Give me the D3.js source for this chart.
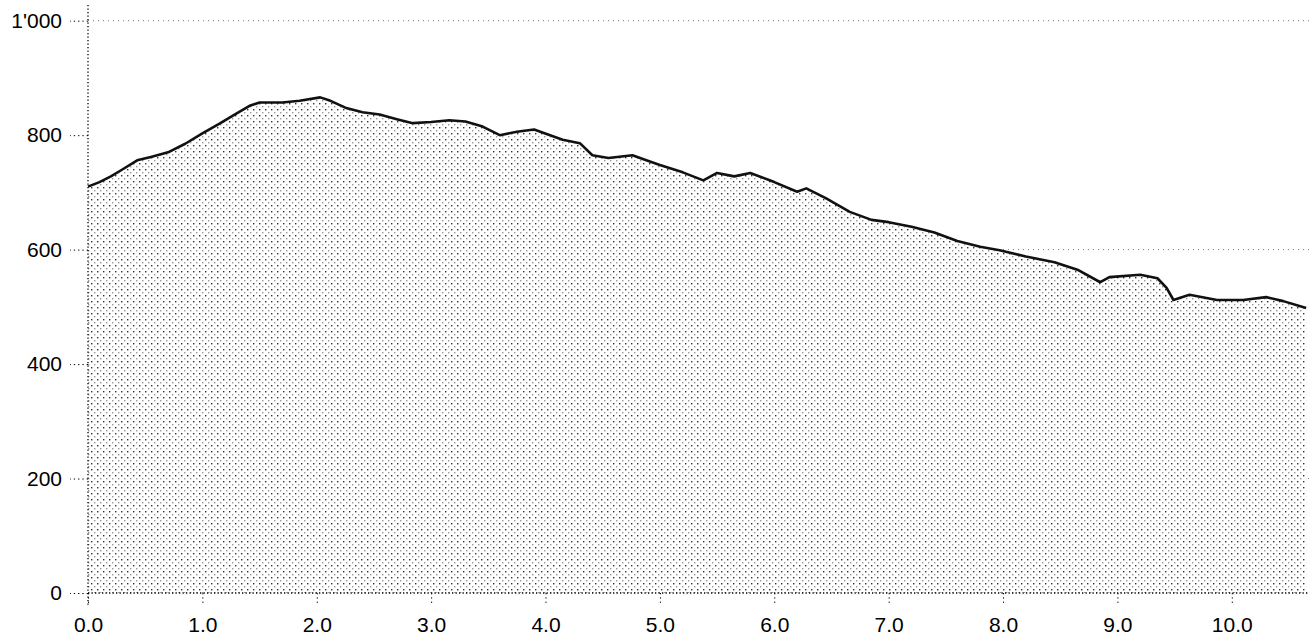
<!DOCTYPE html>
<html><head><meta charset="utf-8">
<script src="https://cdn.jsdelivr.net/npm/d3@7/dist/d3.min.js"></script>
<style>body{margin:0;background:#fff}svg{display:block}</style>
</head><body>
<svg id="c" width="1312" height="641"></svg>
<script>
const distKm = [0.0,0.1,0.2,0.3,0.43,0.55,0.7,0.85,1.0,1.15,1.3,1.42,1.5,1.7,1.85,2.03,2.12,2.25,2.4,2.55,2.7,2.84,3.0,3.16,3.3,3.45,3.6,3.75,3.9,4.04,4.15,4.3,4.41,4.55,4.76,4.9,5.0,5.2,5.38,5.5,5.65,5.79,6.0,6.2,6.28,6.45,6.66,6.85,7.0,7.2,7.4,7.6,7.8,7.97,8.2,8.45,8.65,8.85,8.93,9.2,9.35,9.43,9.49,9.63,9.87,10.1,10.3,10.45,10.65];
const elevation = [710,718,728,740,756,762,770,785,803,820,838,852,857,857,860,866,860,848,840,836,828,821,823,826,824,815,800,806,810,800,792,786,765,760,765,755,748,735,721,734,728,734,718,701,707,690,666,652,648,640,630,615,605,599,588,578,565,543,552,556,550,533,512,521,512,512,517,510,498];
const xTicks = [0,1,2,3,4,5,6,7,8,9,10];
const yTicks = [0,200,400,600,800,1000];
const yLabels = ["0","200","400","600","800","1'000"];
const gridValues = [200,600,1000];

const svg = d3.select("#c");
const x = d3.scaleLinear().domain([0,10.675]).range([88,1309]);
const y = d3.scaleLinear().domain([0,1000]).range([593,20.7]);

const defs = svg.append("defs");
const pat = defs.append("pattern").attr("id","dots").attr("patternUnits","userSpaceOnUse")
  .attr("width",6).attr("height",6);
pat.append("rect").attr("width",6).attr("height",6).attr("fill","#fff");
pat.append("rect").attr("x",1).attr("y",1).attr("width",1.4).attr("height",1.4).attr("fill","#333");
pat.append("rect").attr("x",4).attr("y",4).attr("width",1.4).attr("height",1.4).attr("fill","#999");

// gridlines
svg.append("g").selectAll("line").data(gridValues).join("line")
  .attr("x1",x(0)).attr("x2",1309).attr("y1",d=>y(d)).attr("y2",d=>y(d))
  .attr("stroke","#777").attr("stroke-width",1).attr("stroke-dasharray","1,4");

const data = distKm.map((d,i)=>[d,elevation[i]]);
svg.append("path").datum(data)
  .attr("d", d3.area().x(d=>x(d[0])).y0(y(0)).y1(d=>y(d[1])))
  .attr("fill","url(#dots)");
svg.append("path").datum(data)
  .attr("d", d3.line().x(d=>x(d[0])).y(d=>y(d[1])))
  .attr("fill","none").attr("stroke","#111").attr("stroke-width",2.6).attr("stroke-linejoin","round");

// axes
svg.append("line").attr("x1",x(0)).attr("x2",x(0)).attr("y1",5).attr("y2",605)
  .attr("stroke","#000").attr("stroke-width",1.3).attr("stroke-dasharray","1.3,2.2");
svg.append("line").attr("x1",x(0)).attr("x2",1309).attr("y1",y(0)).attr("y2",y(0))
  .attr("stroke","#000").attr("stroke-width",1.3).attr("stroke-dasharray","1.3,2.2");

const yAxis = d3.axisLeft(y).tickValues(yTicks).tickSize(18).tickPadding(8)
  .tickFormat((d,i)=>yLabels[i]);
const gy = svg.append("g").attr("transform",`translate(${x(0)},0)`).call(yAxis);
gy.select(".domain").remove();
gy.selectAll(".tick line").attr("stroke","#000").attr("stroke-dasharray","1.3,3");
gy.selectAll("text").attr("font-family","'Liberation Sans', Arial, sans-serif")
  .attr("font-size",21).attr("fill","#000");

const xAxis = d3.axisBottom(x).tickValues(xTicks).tickSize(10).tickPadding(14)
  .tickFormat(d3.format(".1f"));
const gx = svg.append("g").attr("transform",`translate(0,${y(0)})`).call(xAxis);
gx.select(".domain").remove();
gx.selectAll(".tick line").attr("stroke","#000").attr("stroke-dasharray","1.3,3");
gx.selectAll("text").attr("font-family","'Liberation Sans', Arial, sans-serif")
  .attr("font-size",21).attr("fill","#000");
</script>
</body></html>
